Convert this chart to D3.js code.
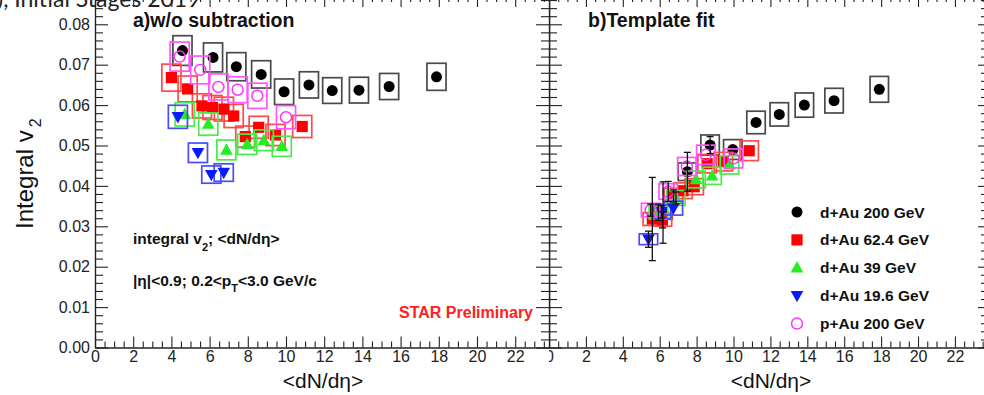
<!DOCTYPE html>
<html>
<head>
<meta charset="utf-8">
<script src="https://cdn.jsdelivr.net/npm/d3@7"></script>
<style>
  body { margin: 0; background: #fff; }
  svg { display: block; font-family: "Liberation Sans", Arial, sans-serif; }
</style>
</head>
<body>
<svg id="chart" width="984" height="395"></svg>
<script>
// series, in legend order
const seriesLabels = ["d+Au 200 GeV", "d+Au 62.4 GeV", "d+Au 39 GeV", "d+Au 19.6 GeV", "p+Au 200 GeV"];

// tick labels
const xMajorTicks = [0, 2, 4, 6, 8, 10, 12, 14, 16, 18, 20, 22];
const yMajorTicks = [0, 0.01, 0.02, 0.03, 0.04, 0.05, 0.06, 0.07, 0.08];

// a) w/o subtraction : <dN/deta> and integral v2
const dAu200_dNdeta = [4.58, 6.18, 7.40, 8.70, 9.90, 11.20, 12.42, 13.82, 15.40, 17.88];
const dAu200_v2 = [0.0735, 0.0718, 0.0695, 0.0676, 0.0633, 0.0650, 0.0636, 0.0637, 0.0646, 0.0670];
const dAu62_dNdeta = [4.00, 4.85, 5.60, 6.15, 6.75, 7.26, 7.87, 8.57, 9.45, 10.85];
const dAu62_v2 = [0.0668, 0.0640, 0.0598, 0.0594, 0.0590, 0.0573, 0.0522, 0.0545, 0.0526, 0.0547];
const dAu39_dNdeta = [4.70, 5.93, 6.88, 7.97, 8.84, 9.78];
const dAu39_v2 = [0.0577, 0.0553, 0.0489, 0.0503, 0.0513, 0.0498];
const dAu19_dNdeta = [4.34, 5.39, 6.09, 6.74];
const dAu19_v2 = [0.0571, 0.0482, 0.0428, 0.0433];
const pAu200_dNdeta = [4.43, 5.51, 6.46, 7.47, 8.50, 10.00];
const pAu200_v2 = [0.0720, 0.0687, 0.0645, 0.0638, 0.0623, 0.0570];

// b) template fit : <dN/deta>, v2 and statistical error
const dAu200_fit_dNdeta = [6.18, 7.50, 8.73, 9.96, 11.22, 12.48, 13.84, 15.45, 17.90];
const dAu200_fit_v2 = [0.0334, 0.0435, 0.0501, 0.0490, 0.0557, 0.0577, 0.0600, 0.0611, 0.0639];
const dAu200_fit_err = [0.0076, 0.0048, 0.0021, 0.0012, 0.0010, 0.0010, 0.0010, 0.0010, 0.0010];
const dAu62_fit_dNdeta = [5.60, 6.15, 6.75, 7.26, 7.87, 8.57, 9.45, 10.85];
const dAu62_fit_v2 = [0.0318, 0.0316, 0.0375, 0.0388, 0.0398, 0.0455, 0.0460, 0.0487];
const dAu62_fit_err = [0.0103, 0.0020, 0.0015, 0.0012, 0.0012, 0.0010, 0.0010, 0.0010];
const dAu39_fit_dNdeta = [5.93, 6.88, 7.97, 8.84, 9.78];
const dAu39_fit_v2 = [0.0335, 0.0370, 0.0416, 0.0425, 0.0452];
const dAu39_fit_err = [0.0020, 0.0015, 0.0012, 0.0010, 0.0010];
const dAu19_fit_dNdeta = [5.39, 6.09, 6.74];
const dAu19_fit_v2 = [0.0268, 0.0336, 0.0345];
const dAu19_fit_err = [0.0020, 0.0015, 0.0012];
const pAu200_fit_dNdeta = [5.51, 6.46, 7.47, 8.50, 10.00];
const pAu200_fit_v2 = [0.0340, 0.0386, 0.0448, 0.0477, 0.0468];
const pAu200_fit_err = [0.0015, 0.0025, 0.0012, 0.0010, 0.0010];

// systematic boxes: +-0.5 in dN/deta, +-5% in v2
const sysX = 0.5;
const sysRel = 0.05;

const markerColors = ["#000000", "#ff0000", "#22ee22", "#0a1aff", "#ff33ff"];
const boxColors = ["#4a4a4a", "#ff4a4a", "#44ee44", "#4a4aff", "#ff55ff"];
const markerShapes = ["dot", "square", "up", "down", "ring"];

const svg = d3.select("#chart");

const y = d3.scaleLinear().domain([0, 0.087]).range([347.5, -4]);
const xL = d3.scaleLinear().domain([0, 23.77]).range([95, 549]);
const xR = d3.scaleLinear().domain([0, 23.63]).range([549, 985]);

// clip for the right pad (its 0 label is cut by the left pad)
svg.append("clipPath").attr("id", "padR")
  .append("rect").attr("x", 549).attr("y", -10).attr("width", 440).attr("height", 410);

const gL = svg.append("g");
const gR = svg.append("g").attr("clip-path", "url(#padR)");

function minorOf(step, max, majorStep) {
  return d3.range(0, max + 1e-9, step)
    .filter(v => Math.abs(v / majorStep - Math.round(v / majorStep)) > 1e-6);
}

function styleAxis(sel) {
  sel.select(".domain").attr("stroke", "#222").attr("stroke-width", 1.2);
  sel.selectAll(".tick line").attr("stroke", "#222").attr("stroke-width", 1.1);
  sel.selectAll(".tick text").attr("fill", "#222")
    .style("font-family", "'Liberation Sans', Arial, sans-serif").style("font-size", "16px");
}

function drawFrame(g, x, opts) {
  const [x0, x1] = x.range();
  const [y0, y1] = y.range();
  const xMinor = minorOf(0.5, x.domain()[1], 2);
  const yMinor = minorOf(0.002, y.domain()[1], 0.01);

  // bottom axis with labels
  g.append("g").attr("transform", `translate(0,${y0})`)
    .call(d3.axisBottom(x).tickValues(xMajorTicks).tickSize(-11).tickSizeOuter(0)
      .tickPadding(3).tickFormat(d3.format("d")))
    .call(styleAxis);
  g.append("g").attr("transform", `translate(0,${y0})`)
    .call(d3.axisBottom(x).tickValues(xMinor).tickSize(-6).tickSizeOuter(0).tickFormat(""))
    .call(styleAxis);
  // top
  g.append("g").attr("transform", `translate(0,${y1})`)
    .call(d3.axisTop(x).tickValues(xMajorTicks).tickSize(-11).tickSizeOuter(0).tickFormat(""))
    .call(styleAxis);
  g.append("g").attr("transform", `translate(0,${y1})`)
    .call(d3.axisTop(x).tickValues(xMinor).tickSize(-6).tickSizeOuter(0).tickFormat(""))
    .call(styleAxis);
  // left
  const left = d3.axisLeft(y).tickValues(yMajorTicks).tickSize(-13).tickSizeOuter(0).tickPadding(5)
    .tickFormat(opts.yLabels ? d3.format(".2f") : "");
  g.append("g").attr("transform", `translate(${x0},0)`).call(left).call(styleAxis);
  g.append("g").attr("transform", `translate(${x0},0)`)
    .call(d3.axisLeft(y).tickValues(yMinor).tickSize(-8).tickSizeOuter(0).tickFormat(""))
    .call(styleAxis);
  // right
  g.append("g").attr("transform", `translate(${x1},0)`)
    .call(d3.axisRight(y).tickValues(yMajorTicks).tickSize(-opts.rightMajor).tickSizeOuter(0).tickFormat(""))
    .call(styleAxis);
  g.append("g").attr("transform", `translate(${x1},0)`)
    .call(d3.axisRight(y).tickValues(yMinor).tickSize(-opts.rightMinor).tickSizeOuter(0).tickFormat(""))
    .call(styleAxis);
}

function markerPath(shape) {
  if (shape === "dot" || shape === "ring") return d3.symbol(d3.symbolCircle, Math.PI * 5.5 * 5.5)();
  if (shape === "square") return "M-5.6,-5.6H5.6V5.6H-5.6Z";
  if (shape === "up") return "M0,-6.6L6.3,4.7L-6.3,4.7Z";
  return "M0,6.6L6.3,-4.7L-6.3,-4.7Z";
}

function drawMarker(sel, k) {
  const ring = markerShapes[k] === "ring";
  sel.attr("d", markerPath(markerShapes[k]))
    .attr("fill", ring ? "none" : markerColors[k])
    .attr("stroke", ring ? markerColors[k] : "none")
    .attr("stroke-width", ring ? 1.5 : 0);
}

function drawSeries(g, x, n, v, k) {
  const pts = d3.zip(n, v);
  g.append("g").selectAll("rect").data(pts).join("rect")
    .attr("x", d => x(d[0] - sysX))
    .attr("width", d => x(d[0] + sysX) - x(d[0] - sysX))
    .attr("y", d => y(d[1] * (1 + sysRel)))
    .attr("height", d => y(d[1] * (1 - sysRel)) - y(d[1] * (1 + sysRel)))
    .attr("fill", "none")
    .attr("stroke", boxColors[k])
    .attr("stroke-width", 1.7);
  g.append("g").selectAll("path").data(pts).join("path")
    .attr("transform", d => `translate(${x(d[0])},${y(d[1])})`)
    .call(drawMarker, k);
}

function drawErrors(g, x, n, v, e) {
  const pts = d3.zip(n, v, e).filter(d => y(d[1] - d[2]) - y(d[1] + d[2]) > 12);
  const eg = g.append("g").attr("stroke", "#111").attr("stroke-width", 1.3);
  eg.selectAll("line.bar").data(pts).join("line").attr("class", "bar")
    .attr("x1", d => x(d[0])).attr("x2", d => x(d[0]))
    .attr("y1", d => y(d[1] + d[2])).attr("y2", d => y(d[1] - d[2]));
  eg.selectAll("line.top").data(pts).join("line").attr("class", "top")
    .attr("x1", d => x(d[0]) - 3.5).attr("x2", d => x(d[0]) + 3.5)
    .attr("y1", d => y(d[1] + d[2])).attr("y2", d => y(d[1] + d[2]));
  eg.selectAll("line.bot").data(pts).join("line").attr("class", "bot")
    .attr("x1", d => x(d[0]) - 3.5).attr("x2", d => x(d[0]) + 3.5)
    .attr("y1", d => y(d[1] - d[2])).attr("y2", d => y(d[1] - d[2]));
}

// ---- frames
drawFrame(gL, xL, { yLabels: true, rightMajor: 13, rightMinor: 8 });
drawFrame(gR, xR, { yLabels: false, rightMajor: 7, rightMinor: 4 });

// ---- left pad: w/o subtraction
drawSeries(gL, xL, dAu200_dNdeta, dAu200_v2, 0);
drawSeries(gL, xL, dAu62_dNdeta, dAu62_v2, 1);
drawSeries(gL, xL, dAu39_dNdeta, dAu39_v2, 2);
drawSeries(gL, xL, dAu19_dNdeta, dAu19_v2, 3);
drawSeries(gL, xL, pAu200_dNdeta, pAu200_v2, 4);

// ---- right pad: template fit
drawSeries(gR, xR, dAu200_fit_dNdeta, dAu200_fit_v2, 0);
drawSeries(gR, xR, dAu62_fit_dNdeta, dAu62_fit_v2, 1);
drawSeries(gR, xR, dAu39_fit_dNdeta, dAu39_fit_v2, 2);
drawSeries(gR, xR, dAu19_fit_dNdeta, dAu19_fit_v2, 3);
drawSeries(gR, xR, pAu200_fit_dNdeta, pAu200_fit_v2, 4);
drawErrors(gR, xR, dAu200_fit_dNdeta, dAu200_fit_v2, dAu200_fit_err);
drawErrors(gR, xR, dAu62_fit_dNdeta, dAu62_fit_v2, dAu62_fit_err);
drawErrors(gR, xR, dAu39_fit_dNdeta, dAu39_fit_v2, dAu39_fit_err);
drawErrors(gR, xR, dAu19_fit_dNdeta, dAu19_fit_v2, dAu19_fit_err);
drawErrors(gR, xR, pAu200_fit_dNdeta, pAu200_fit_v2, pAu200_fit_err);

// ---- legend
const legend = gR.append("g").attr("transform", "translate(797,212)");
seriesLabels.forEach((label, k) => {
  const row = legend.append("g").attr("transform", `translate(0,${k * 27.9})`);
  row.append("path").call(drawMarker, k);
  row.append("text").attr("x", 23).attr("y", 5.5)
    .style("font-size", "15.5px").style("font-weight", "bold").attr("fill", "#111")
    .text(label);
});

// ---- texts
svg.append("text").attr("x", -3).attr("y", 7)
  .style("font-family", "Lato, 'Open Sans', sans-serif").style("font-size", "23px").attr("fill", "#222")
  .text("), Initial Stages 2019");

svg.append("text").attr("x", 133).attr("y", 27)
  .style("font-size", "19.5px").style("font-weight", "bold").attr("fill", "#111")
  .text("a)w/o subtraction");
svg.append("text").attr("x", 588).attr("y", 27)
  .style("font-size", "19.5px").style("font-weight", "bold").attr("fill", "#111")
  .text("b)Template fit");

const t1 = svg.append("text").attr("x", 133).attr("y", 244)
  .style("font-size", "15.5px").style("font-weight", "bold").attr("fill", "#111");
t1.append("tspan").text("integral v");
t1.append("tspan").attr("dy", 7).style("font-size", "11px").text("2");
t1.append("tspan").attr("dy", -7).text("; <dN/dη>");

const t2 = svg.append("text").attr("x", 133).attr("y", 286)
  .style("font-size", "15.5px").style("font-weight", "bold").attr("fill", "#111");
t2.append("tspan").text("|η|<0.9; 0.2<p");
t2.append("tspan").attr("dy", 6).style("font-size", "11px").text("T");
t2.append("tspan").attr("dy", -6).text("<3.0 GeV/c");

svg.append("text").attr("x", 533).attr("y", 318).attr("text-anchor", "end")
  .style("font-size", "16px").style("font-weight", "bold").attr("fill", "#ff2020")
  .text("STAR Preliminary");

const yt = svg.append("text").attr("transform", "translate(33,229) rotate(-90)")
  .style("font-size", "24px").attr("fill", "#111");
yt.append("tspan").text("Integral v");
yt.append("tspan").attr("dx", 3).attr("dy", 8).style("font-size", "16px").text("2");

svg.append("text").attr("x", 323).attr("y", 388).attr("text-anchor", "middle")
  .style("font-size", "21px").attr("fill", "#111").text("<dN/dη>");
svg.append("text").attr("x", 771).attr("y", 388).attr("text-anchor", "middle")
  .style("font-size", "21px").attr("fill", "#111").text("<dN/dη>");
</script>
</body>
</html>
